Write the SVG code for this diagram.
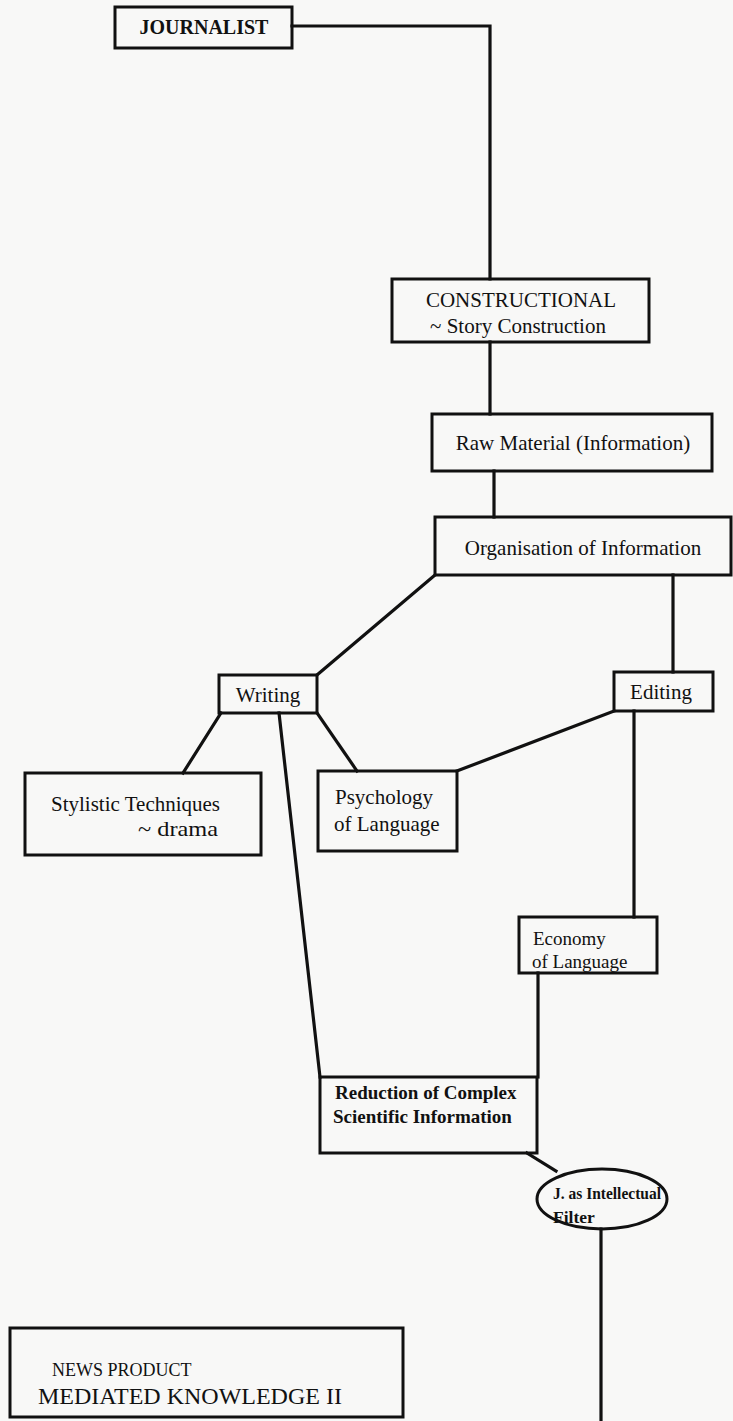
<svg xmlns="http://www.w3.org/2000/svg" width="733" height="1421" viewBox="0 0 733 1421">
  <style>
    .box { fill: none; stroke: #111; stroke-width: 3; }
    .wire { fill: none; stroke: #111; stroke-width: 3.2; stroke-linecap: square; }
    .t { font-family: "Liberation Serif", "Times New Roman", serif; fill: #111; }
    .s17 { font-size: 17.5px; }
    .s18 { font-size: 18px; }
    .s19 { font-size: 19px; }
    .s20 { font-size: 20px; }
    .s21 { font-size: 21px; }
    .s24 { font-size: 24px; }
  </style>
  <rect width="733" height="1421" fill="#f8f8f7"/>

  <!-- connectors -->
  <g id="connectors">
    <polyline class="wire" points="292,26 490,26 490,279"/>
    <line class="wire" x1="490" y1="342" x2="490" y2="414"/>
    <line class="wire" x1="494" y1="471" x2="494" y2="517"/>
    <line class="wire" x1="435" y1="575" x2="317" y2="675"/>
    <line class="wire" x1="673" y1="575" x2="673" y2="672"/>
    <line class="wire" x1="221" y1="713" x2="183" y2="773"/>
    <line class="wire" x1="317" y1="713" x2="357" y2="771"/>
    <line class="wire" x1="614" y1="711" x2="457" y2="771"/>
    <line class="wire" x1="279" y1="713" x2="320" y2="1077"/>
    <line class="wire" x1="634" y1="711" x2="634" y2="917"/>
    <line class="wire" x1="538" y1="973" x2="538" y2="1077"/>
    <line class="wire" x1="527" y1="1153" x2="556" y2="1171"/>
    <line class="wire" x1="601" y1="1229" x2="601" y2="1421"/>
  </g>

  <g id="journalist">
    <rect class="box" x="115" y="7" width="177" height="41"/>
    <text class="t s20" x="204" y="34" text-anchor="middle" font-weight="bold">JOURNALIST</text>
  </g>

  <g id="constructional">
    <rect class="box" x="392" y="279" width="257" height="63"/>
    <text class="t s21" x="521" y="307" text-anchor="middle">CONSTRUCTIONAL</text>
    <text class="t s21" x="518" y="333" text-anchor="middle">~ Story  Construction</text>
  </g>

  <g id="raw-material">
    <rect class="box" x="432" y="414" width="280" height="57"/>
    <text class="t s21" x="573" y="450" text-anchor="middle">Raw Material (Information)</text>
  </g>

  <g id="organisation">
    <rect class="box" x="435" y="517" width="296" height="58"/>
    <text class="t s21" x="583" y="555" text-anchor="middle">Organisation of  Information</text>
  </g>

  <g id="writing">
    <rect class="box" x="219" y="675" width="98" height="38"/>
    <text class="t s21" x="268" y="702" text-anchor="middle">Writing</text>
  </g>

  <g id="editing">
    <rect class="box" x="614" y="672" width="99" height="39"/>
    <text class="t s21" x="661" y="699" text-anchor="middle">Editing</text>
  </g>

  <g id="stylistic">
    <rect class="box" x="25" y="773" width="236" height="82"/>
    <text class="t s21" x="51" y="811">Stylistic Techniques</text>
    <text class="t s21" x="138" y="836" textLength="80" lengthAdjust="spacingAndGlyphs">~ drama</text>
  </g>

  <g id="psychology">
    <rect class="box" x="318" y="771" width="139" height="80"/>
    <text class="t s21" x="335" y="804">Psychology</text>
    <text class="t s21" x="334" y="831">of  Language</text>
  </g>

  <g id="economy">
    <rect class="box" x="519" y="917" width="138" height="56"/>
    <text class="t s19" x="533" y="945">Economy</text>
    <text class="t s19" x="532" y="968">of Language</text>
  </g>

  <g id="reduction">
    <rect class="box" x="320" y="1077" width="217" height="76"/>
    <text class="t s19" x="335" y="1099" font-weight="bold">Reduction of Complex</text>
    <text class="t s19" x="333" y="1123" font-weight="bold">Scientific Information</text>
  </g>

  <g id="intellectual-filter">
    <ellipse class="box" cx="602" cy="1199" rx="65" ry="30"/>
    <text class="t s17" x="553" y="1199" font-weight="bold" textLength="108" lengthAdjust="spacingAndGlyphs">J. as Intellectual</text>
    <text class="t s17" x="553" y="1223" font-weight="bold">Filter</text>
  </g>

  <g id="news-product">
    <rect class="box" x="10" y="1328" width="393" height="89"/>
    <text class="t s18" x="52" y="1376">NEWS PRODUCT</text>
    <text class="t s24" x="38" y="1404">MEDIATED KNOWLEDGE II</text>
  </g>
</svg>
